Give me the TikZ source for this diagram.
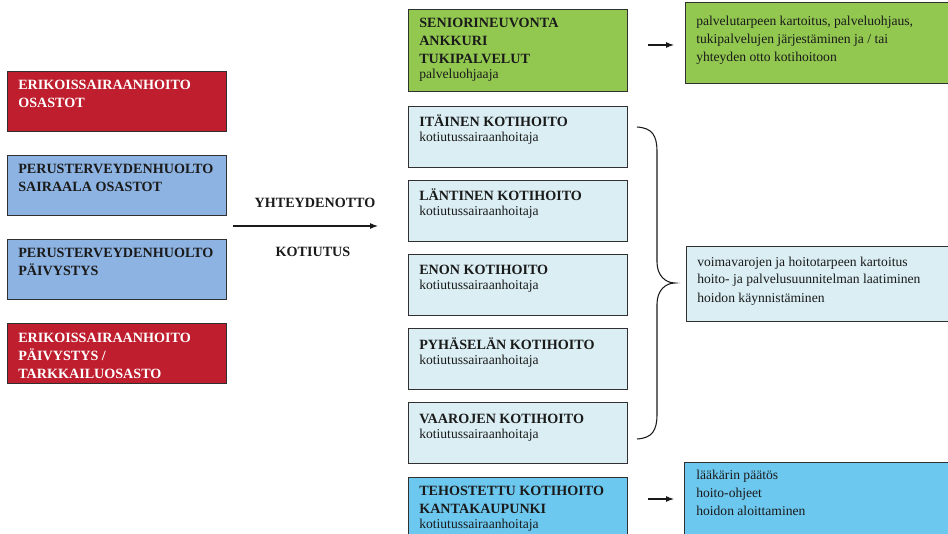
\documentclass[tikz,border=0pt]{standalone}
\usepackage{fontspec}
\setmainfont{Liberation Serif}
\usetikzlibrary{arrows.meta}

\definecolor{redfill}{HTML}{BE1E2D}
\definecolor{bluefill}{HTML}{8DB3E2}
\definecolor{greenfill}{HTML}{92C850}
\definecolor{palefill}{HTML}{DAEEF3}
\definecolor{skyfill}{HTML}{6DC8F0}
\definecolor{edgecol}{HTML}{303030}
\definecolor{ink}{HTML}{1A1A1A}

\newcommand{\subfnt}{\fontsize{10.2pt}{13.5pt}\selectfont\mdseries}

\begin{document}
% Text nodes are placed by the baseline of their last line (anchor=base west).
\begin{tikzpicture}[x=0.75pt,y=-0.75pt,
  box/.style={draw=edgecol, line width=0.9pt, anchor=north west, inner sep=0pt,
              minimum width=164.25pt},
  redbox/.style={box, fill=redfill, minimum height=45pt},
  bluebox/.style={box, fill=bluefill, minimum height=45pt},
  homebox/.style={box, fill=palefill, minimum height=45.75pt},
  widebox/.style={box, minimum width=210pt},
  headtxt/.style={anchor=base west, align=left, inner sep=0pt, text=ink,
                  font=\fontsize{10.6pt}{13.5pt}\selectfont\bfseries},
  bodytxt/.style={anchor=base west, align=left, inner sep=0pt, text=ink,
                  font=\fontsize{10.2pt}{13.5pt}\selectfont},
  flow/.style={draw=ink, line width=0.8pt, -{Latex[length=6pt,width=4.5pt]}}
]
\clip (0,0) rectangle (948,534);

% referring units
\node[redbox]  (erosastot) at (7,71)  {};
\node[bluebox] (peosastot) at (7,155) {};
\node[bluebox] (pepaiv)    at (7,239) {};
\node[redbox]  (erpaiv)    at (7,323) {};

\node[headtxt, text=white] (terosastot) at (18,108) {ERIKOISSAIRAANHOITO\\OSASTOT};
\node[headtxt]             (tpeosastot) at (18,192) {PERUSTERVEYDENHUOLTO\\SAIRAALA OSASTOT};
\node[headtxt]             (tpepaiv)    at (18,276) {PERUSTERVEYDENHUOLTO\\PÄIVYSTYS};
\node[headtxt, text=white] (terpaiv)    at (18,378) {ERIKOISSAIRAANHOITO\\PÄIVYSTYS /\\TARKKAILUOSASTO};

% contact / discharge arrow
\coordinate (flowstart) at (233,226);
\coordinate (flowend)   at (378,226);
\draw[flow] (flowstart) -- (flowend);
\node[headtxt, anchor=base] (yhteys) at (315,208) {YHTEYDENOTTO};
\node[headtxt, anchor=base] (kotiut) at (313,257) {KOTIUTUS};

% home care units
\node[box, fill=greenfill, minimum height=61.5pt] (senior) at (408,9) {};
\node[homebox] (itainen)   at (408,106) {};
\node[homebox] (lantinen)  at (408,180) {};
\node[homebox] (enon)      at (408,254) {};
\node[homebox] (pyhaselan) at (408,328) {};
\node[homebox] (vaarojen)  at (408,402) {};
\node[box, fill=skyfill, minimum height=51pt] (tehostettu) at (408,477) {};

\node[headtxt] (tsenior) at (419,79)
  {SENIORINEUVONTA\\ANKKURI\\TUKIPALVELUT\\[-2.25pt]{\subfnt palveluohjaaja}};
\node[headtxt] (titainen)   at (419,142) {ITÄINEN KOTIHOITO\\[-2.25pt]{\subfnt kotiutussairaanhoitaja}};
\node[headtxt] (tlantinen)  at (419,216) {LÄNTINEN KOTIHOITO\\[-2.25pt]{\subfnt kotiutussairaanhoitaja}};
\node[headtxt] (tenon)      at (419,290) {ENON KOTIHOITO\\[-2.25pt]{\subfnt kotiutussairaanhoitaja}};
\node[headtxt] (tpyhaselan) at (419,364) {PYHÄSELÄN KOTIHOITO\\[-2.25pt]{\subfnt kotiutussairaanhoitaja}};
\node[headtxt] (tvaarojen)  at (419,438) {VAAROJEN KOTIHOITO\\[-2.25pt]{\subfnt kotiutussairaanhoitaja}};
\node[headtxt] (ttehostettu) at (419,528)
  {TEHOSTETTU KOTIHOITO\\KANTAKAUPUNKI\\[-2.25pt]{\subfnt kotiutussairaanhoitaja}};

% tasks
\node[widebox, fill=greenfill, minimum height=60.75pt] (seniortask) at (685,2) {};
\node[widebox, fill=palefill, minimum height=56.25pt]  (hometask)   at (686,246) {};
\node[widebox, fill=skyfill, minimum height=60pt]      (tehotask)   at (684,462) {};

\node[bodytxt] (tseniortask) at (696,62)
  {palvelutarpeen kartoitus, palveluohjaus,\\tukipalvelujen järjestäminen ja / tai\\yhteyden otto kotihoitoon};
\node[bodytxt] (thometask) at (697,302)
  {voimavarojen ja hoitotarpeen kartoitus\\hoito- ja palvelusuunnitelman laatiminen\\hoidon käynnistäminen};
\node[bodytxt] (ttehotask) at (696,515)
  {lääkärin päätös\\hoito-ohjeet\\hoidon aloittaminen};

% short arrows to the task boxes
\coordinate (sa1) at (648,45);
\coordinate (sa2) at (674,45);
\coordinate (ta1) at (648,499);
\coordinate (ta2) at (674,499);
\draw[flow] (sa1) -- (sa2);
\draw[flow] (ta1) -- (ta2);

% brace grouping the home care units
\draw[draw=ink, line width=0.8pt]
  (637,127) .. controls (652,128) and (657,135) .. (657,152)
  -- (657,262) .. controls (657,275) and (665,283) .. (675,283)
  .. controls (665,283) and (657,291) .. (657,304)
  -- (657,414) .. controls (657,431) and (652,438) .. (637,439);
\end{tikzpicture}
\end{document}
